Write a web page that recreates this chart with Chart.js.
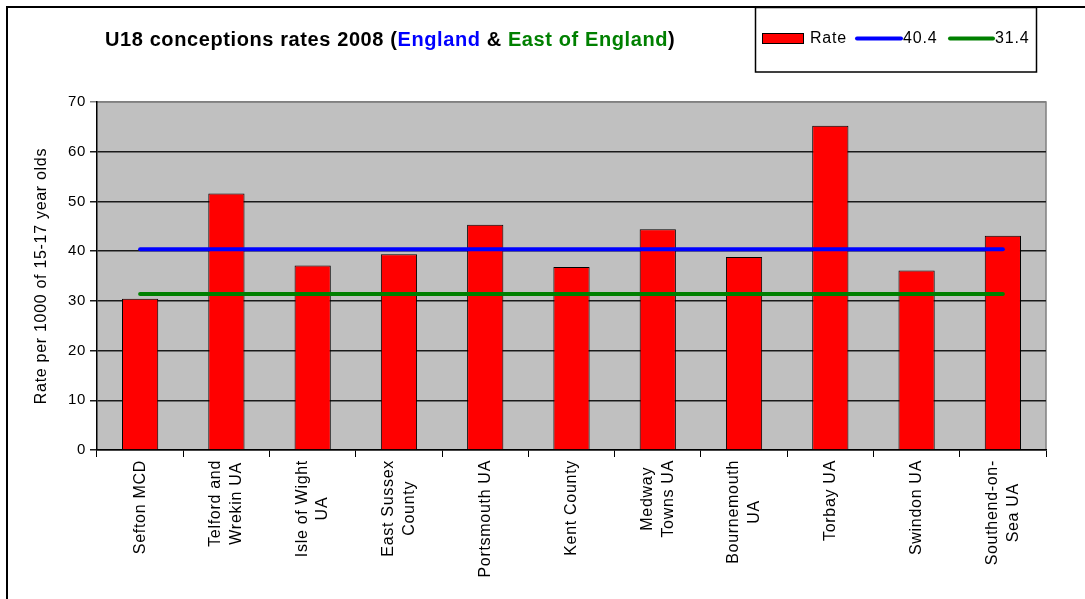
<!DOCTYPE html>
<html>
<head>
<meta charset="utf-8">
<script src="https://cdn.jsdelivr.net/npm/chart.js@4.4.1/dist/chart.umd.min.js"></script>
<style>
  html, body { margin: 0; padding: 0; background: #fff; }
  canvas { display: block; }
</style>
</head>
<body>
<canvas id="chart" width="1085" height="599"></canvas>
<script>
// === data ===
const areas = [
  'Sefton MCD',
  ['Telford and', 'Wrekin UA'],
  ['Isle of Wight', 'UA'],
  ['East Sussex', 'County'],
  'Portsmouth UA',
  'Kent County',
  ['Medway', 'Towns UA'],
  ['Bournemouth', 'UA'],
  'Torbay UA',
  'Swindon UA',
  ['Southend-on-', 'Sea UA']
];
const rates = [30.4, 51.6, 37.1, 39.4, 45.3, 36.8, 44.4, 38.8, 65.2, 36.1, 43.1];
const englandRate = [40.4, 40.4, 40.4, 40.4, 40.4, 40.4, 40.4, 40.4, 40.4, 40.4, 40.4];
const eastRate = [31.4, 31.4, 31.4, 31.4, 31.4, 31.4, 31.4, 31.4, 31.4, 31.4, 31.4];
const yTicks = [0, 10, 20, 30, 40, 50, 60, 70];

const FONT = "'Liberation Sans', Arial, sans-serif";
const BLUE = '#0000FF', GREEN = '#008000', RED = '#FF0000';
const SPACING = '0.7px';

// === background, frame, plot area ===
const backdrop = {
  id: 'backdrop',
  beforeDraw(chart) {
    const { ctx, chartArea: a } = chart;
    ctx.save();
    ctx.fillStyle = '#fff';
    ctx.fillRect(0, 0, chart.width, chart.height);
    // plot area
    ctx.fillStyle = '#C0C0C0';
    ctx.fillRect(a.left, a.top, a.right - a.left, a.bottom - a.top);
    ctx.strokeStyle = '#808080';
    ctx.lineWidth = 1.5;
    ctx.beginPath();
    ctx.moveTo(a.left, a.top);
    ctx.lineTo(a.right, a.top);
    ctx.lineTo(a.right, a.bottom);
    ctx.stroke();
    // outer frame (left + top only visible)
    ctx.strokeStyle = '#000';
    ctx.lineWidth = 2;
    ctx.beginPath();
    ctx.moveTo(7, chart.height);
    ctx.lineTo(7, 7);
    ctx.lineTo(chart.width, 7);
    ctx.stroke();
    ctx.restore();

    // the original text is slightly spaced out
    ctx.letterSpacing = SPACING;

    // rotated labels: lines centred on each other, block centred on the category
    const xs = chart.scales.x;
    const f = Chart.helpers.toFont(xs.options.ticks.font);
    ctx.save();
    ctx.font = f.string;
    ctx.letterSpacing = SPACING;
    xs.getLabelItems().forEach(item => {
      if (item._fixed) return;
      const lines = Array.isArray(item.label) ? item.label : [item.label];
      const w = Math.max(...lines.map(l => ctx.measureText(l).width));
      item.options.translation[0] -= (lines.length - 1) * f.lineHeight / 2;
      item.options.translation[1] += w / 2;
      item.options.textAlign = 'center';
      item._fixed = true;
    });
    ctx.restore();
  }
};

// === title + legend box ===
const header = {
  id: 'header',
  afterDraw(chart) {
    const { ctx } = chart;
    ctx.save();
    ctx.textBaseline = 'middle';
    ctx.font = 'bold 20px ' + FONT;
    ctx.letterSpacing = '0.6px';
    const parts = [
      ['U18 conceptions rates 2008 (', '#000'],
      ['England', BLUE],
      [' & ', '#000'],
      ['East of England', GREEN],
      [')', '#000']
    ];
    let x = 105;
    parts.forEach(([t, c]) => {
      ctx.fillStyle = c;
      ctx.fillText(t, x, 40);
      x += ctx.measureText(t).width;
    });

    // legend
    ctx.strokeStyle = '#000';
    ctx.lineWidth = 1.5;
    ctx.strokeRect(755.5, 7.5, 281, 64.5);
    ctx.font = '16px ' + FONT;
    ctx.letterSpacing = '0.8px';
    ctx.fillStyle = RED;
    ctx.fillRect(762, 33, 42, 11);
    ctx.lineWidth = 1;
    ctx.strokeRect(762.5, 33.5, 41, 10);
    ctx.fillStyle = '#000';
    ctx.fillText('Rate', 810, 39);
    ctx.lineWidth = 4;
    ctx.lineCap = 'round';
    ctx.strokeStyle = BLUE;
    ctx.beginPath(); ctx.moveTo(857, 38.5); ctx.lineTo(901, 38.5); ctx.stroke();
    ctx.fillText(englandRate[0].toFixed(1), 903, 39);
    ctx.strokeStyle = GREEN;
    ctx.beginPath(); ctx.moveTo(950, 38.5); ctx.lineTo(993, 38.5); ctx.stroke();
    ctx.fillText(eastRate[0].toFixed(1), 995, 39);
    ctx.restore();
  }
};

new Chart(document.getElementById('chart'), {
  data: {
    labels: areas,
    datasets: [
      {
        type: 'line', label: 'England', data: englandRate, order: 0,
        borderColor: BLUE, borderWidth: 4, borderCapStyle: 'round',
        pointRadius: 0, fill: false
      },
      {
        type: 'line', label: 'East of England', data: eastRate, order: 0,
        borderColor: GREEN, borderWidth: 4, borderCapStyle: 'round',
        pointRadius: 0, fill: false
      },
      {
        type: 'bar', label: 'Rate', data: rates, order: 1,
        backgroundColor: RED, borderColor: '#000', borderWidth: 1,
        barPercentage: 0.42, categoryPercentage: 1
      }
    ]
  },
  options: {
    responsive: false,
    animation: false,
    devicePixelRatio: 1,
    layout: { padding: { top: 102, right: 39, left: 0, bottom: 0 } },
    plugins: { legend: { display: false }, tooltip: { enabled: false }, title: { display: false } },
    scales: {
      x: {
        grid: { offset: true, drawOnChartArea: false, color: '#000', lineWidth: 1, tickLength: 7 },
        border: { color: '#000', width: 1.5 },
        ticks: {
          autoSkip: false, minRotation: 90, maxRotation: 90, padding: 3,
          color: '#000', font: { family: FONT, size: 16, lineHeight: 1.3 }
        },
        afterFit: s => { s.height = 149; }
      },
      y: {
        min: 0, max: 70,
        afterBuildTicks: s => { s.ticks = yTicks.map(v => ({ value: v })); },
        grid: {
          color: c => c.tick && c.tick.value === 70 ? '#808080' : '#1a1a1a',
          lineWidth: 1.5, tickLength: 7
        },
        border: { color: '#000', width: 1.5 },
        ticks: { padding: 4, color: '#000', font: { family: FONT, size: 15 } },
        title: {
          display: true, text: 'Rate per 1000 of 15-17 year olds', color: '#000',
          font: { family: FONT, size: 16 }, padding: { top: 32, bottom: 0 }
        },
        afterFit: s => { s.width = 97; }
      }
    }
  },
  plugins: [backdrop, header]
});
</script>
</body>
</html>
